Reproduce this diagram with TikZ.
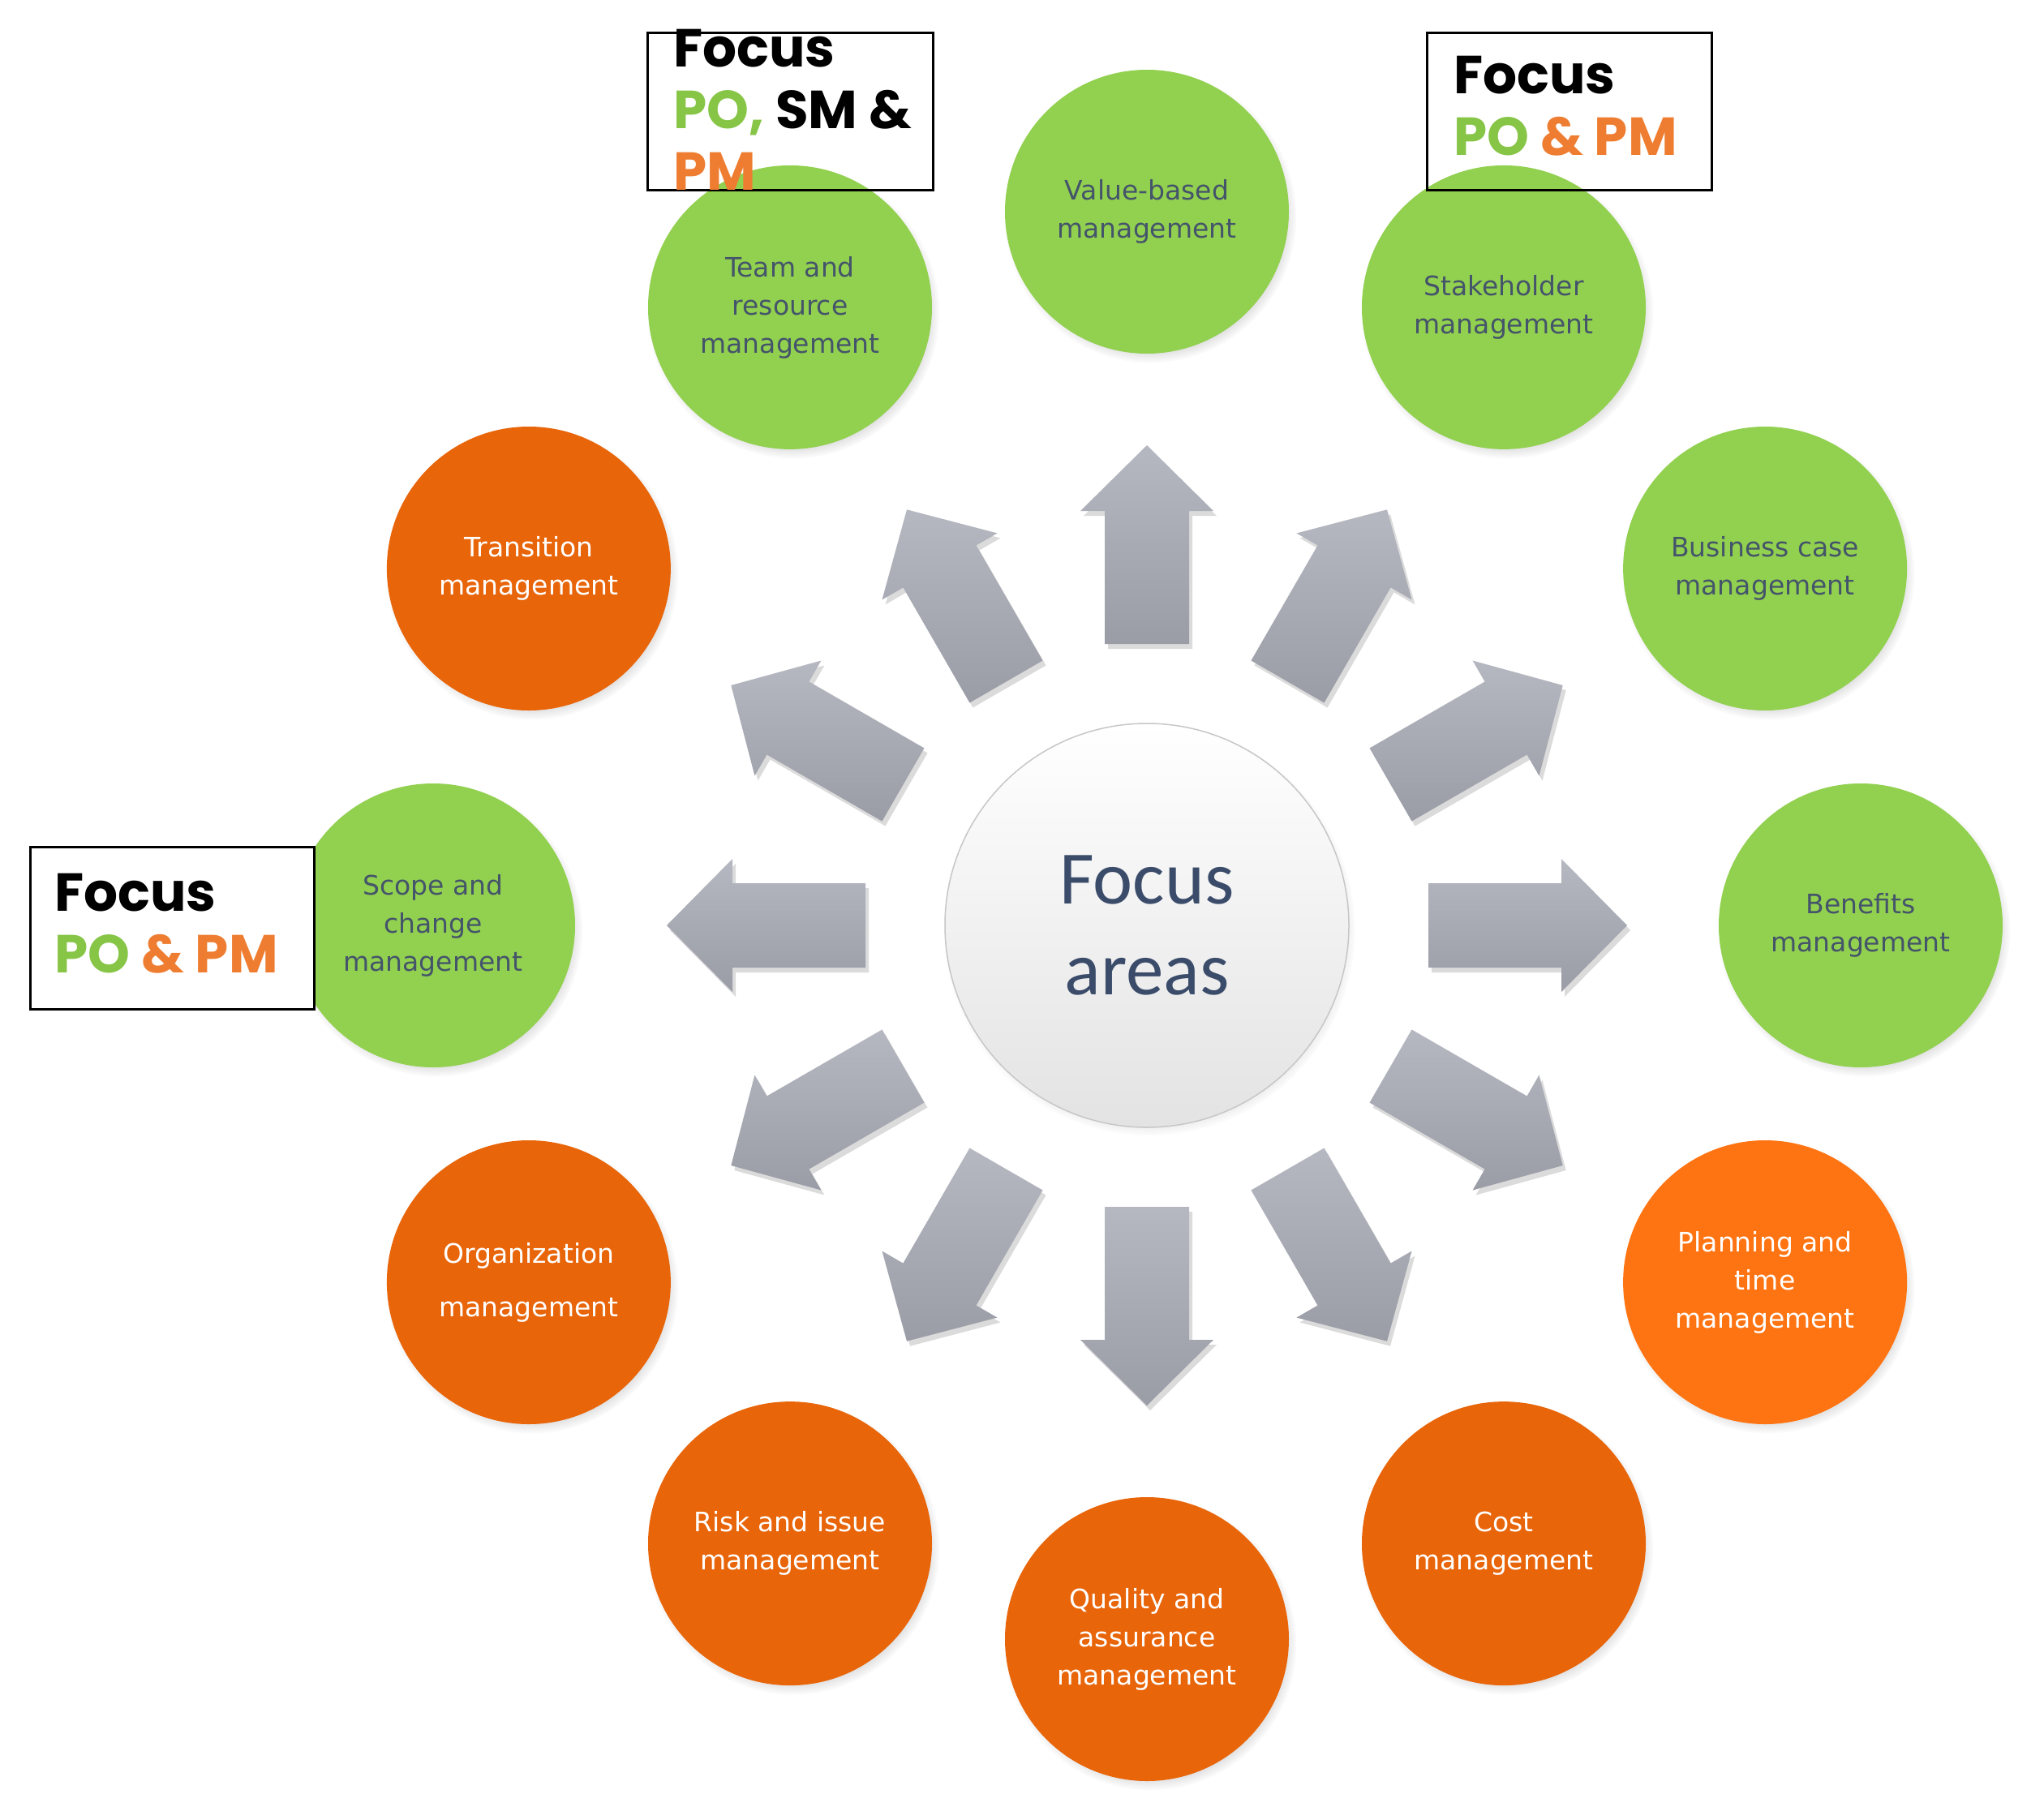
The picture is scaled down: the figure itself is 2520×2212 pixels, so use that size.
\documentclass[tikz,border=0pt]{standalone}
\usepackage{fontspec}
\usetikzlibrary{shadows,calc,fadings}
\newfontfamily\labelfont{DejaVu Sans}
\newfontfamily\centerfont{Carlito}
\newfontfamily\boxfont{Poppins}
\definecolor{fgreen}{HTML}{92D050}
\definecolor{forange}{HTML}{E8650A}
\definecolor{forangeb}{HTML}{FF7412}
\definecolor{ftext}{HTML}{44546A}
\definecolor{pogreen}{HTML}{86C546}
\definecolor{pmorange}{HTML}{EE7D31}
\definecolor{arrowtop}{HTML}{B6B8C1}
\definecolor{arrowbot}{HTML}{9A9CA6}
\definecolor{centertext}{HTML}{3A4C6A}
\tikzset{
  area/.style={circle, minimum size=350pt, inner sep=0pt, align=center,
    font=\labelfont\fontsize{33}{47}\selectfont,
    circular drop shadow={shadow xshift=4pt, shadow yshift=-6pt, shadow scale=1.03, opacity=0.45}},
  greenarea/.style={area, fill=fgreen, text=ftext},
  orangearea/.style={area, fill=forange, text=white},
  focusbox/.style={draw=black, line width=3pt, inner sep=0pt, anchor=north west},
  focustext/.style={anchor=north west, inner sep=0pt, align=left,
    font=\boxfont\bfseries\fontsize{66}{76}\selectfont},
  arrowshadow/.style={fill=black, opacity=0.14},
  arrowbody/.style={top color=arrowtop, bottom color=arrowbot},
}
\begin{document}
\begin{tikzpicture}[x=1pt, y=1pt]
\useasboundingbox (0,0) rectangle (2520,-2212);
\fill[white] (0,0) rectangle (2520,-2212);
\coordinate (C) at (1414,-1141);

% arrows
\foreach \a in {0,30,...,330}{
  \begin{scope}[shift={(4,-6)}, shift={(1414,-1141)}, rotate=\a]
    \fill[arrowshadow] (347,-52) -- (511,-52) -- (511,-82) -- (592,0) -- (511,82) -- (511,52) -- (347,52) -- cycle;
  \end{scope}
  \begin{scope}[shift={(1414,-1141)}, rotate=\a]
    \shade[arrowbody] (347,-52) -- (511,-52) -- (511,-82) -- (592,0) -- (511,82) -- (511,52) -- (347,52) -- cycle;
  \end{scope}
}

% centre
\node[circle, minimum size=498pt, inner sep=0pt, draw=black!22, line width=1.5pt,
  top color=white, middle color=white, bottom color=black!11,
  circular drop shadow={shadow xshift=3pt, shadow yshift=-5pt, shadow scale=1.02, opacity=0.4},
  text=centertext, align=center, font=\centerfont\fontsize{93}{112}\selectfont]
  (center) at (C) {Focus\\areas};

% areas
\node[greenarea]  (value)  at ($(C)+(90:880)$)  {Value-based\\management};
\node[greenarea]  (stake)  at ($(C)+(60:880)$)  {Stakeholder\\management};
\node[greenarea]  (bcase)  at ($(C)+(30:880)$)  {Business case\\management};
\node[greenarea]  (bene)   at ($(C)+(0:880)$)   {Benefits\\management};
\node[orangearea, fill=forangeb] (plan) at ($(C)+(-30:880)$) {Planning and\\time\\management};
\node[orangearea] (cost)   at ($(C)+(-60:880)$) {Cost\\management};
\node[orangearea] (qual)   at ($(C)+(-90:880)$) {Quality and\\assurance\\management};
\node[orangearea] (risk)   at ($(C)+(-120:880)$) {Risk and issue\\management};
\node[orangearea] (org)    at ($(C)+(-150:880)$) {Organization\\[19pt]management};
\node[greenarea]  (scope)  at ($(C)+(180:880)$) {Scope and\\change\\management};
\node[orangearea] (trans)  at ($(C)+(150:880)$) {Transition\\management};
\node[greenarea]  (team)   at ($(C)+(120:880)$) {Team and\\resource\\management};

% focus boxes
\node[focusbox, minimum width=352pt, minimum height=194pt] (box1) at (797,-39) {};
\node[focustext] (box1text) at (830,-36) {Focus\\{\color{pogreen}PO,} SM \&\\{\color{pmorange}PM}};

\node[focusbox, minimum width=351pt, minimum height=194pt] (box2) at (1758,-39) {};
\node[focustext] (box2text) at (1792,-69) {Focus\\{\color{pogreen}PO} {\color{pmorange}\& PM}};

\node[focusbox, fill=white, minimum width=350pt, minimum height=200pt] (box3) at (36,-1043) {};
\node[focustext] (box3text) at (67,-1077) {Focus\\{\color{pogreen}PO} {\color{pmorange}\& PM}};
\end{tikzpicture}
\end{document}
